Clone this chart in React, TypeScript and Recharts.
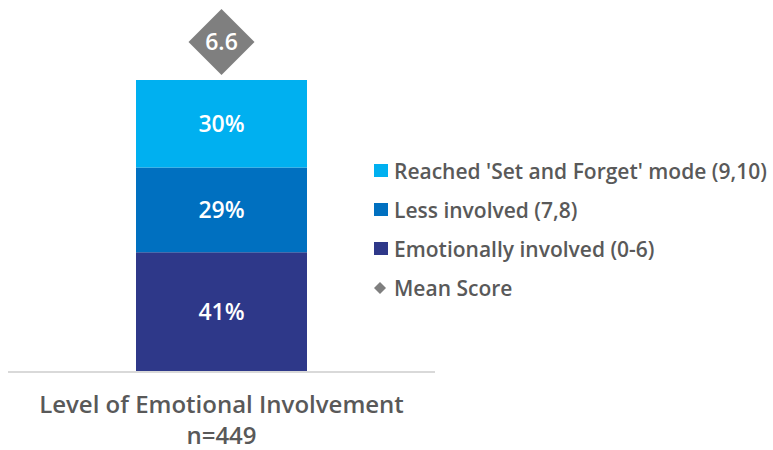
import { ComposedChart, Bar, XAxis, YAxis, LabelList } from 'recharts';

const categories = ['Level of Emotional Involvement'];
const sampleSizes = ['n=449'];
const emotionallyInvolved = [41];
const lessInvolved = [29];
const setAndForget = [30];
const meanScores = [6.6];

const data = categories.map((name, i) => ({
  name,
  n: sampleSizes[i],
  emotional: emotionallyInvolved[i],
  less: lessInvolved[i],
  forget: setAndForget[i],
  mean: meanScores[i],
}));

const legendItems = [
  { label: "Reached 'Set and Forget' mode (9,10)", color: '#00b0f0', shape: 'square' },
  { label: 'Less involved (7,8)', color: '#0070c0', shape: 'square' },
  { label: 'Emotionally involved (0-6)', color: '#2e3889', shape: 'square' },
  { label: 'Mean Score', color: '#7f7f7f', shape: 'diamond' },
];

const FONT = '"Open Sans", sans-serif';
const TEXT = '#595959';

const CategoryTick = ({ x, y, payload }: any) => {
  const i = categories.indexOf(payload.value);
  return (
    <text x={x} y={y} textAnchor="middle" fill={TEXT} fontSize={24} fontWeight={600} fontFamily={FONT}>
      <tspan x={x} dy={33}>{payload.value}</tspan>
      <tspan x={x} dy={31}>{sampleSizes[i]}</tspan>
    </text>
  );
};

const MeanDiamond = (props: any) => {
  const { x, y, width, value } = props;
  const cx = Number(x) + Number(width) / 2;
  const cy = Number(y) - 38;
  const r = 33;
  return (
    <g>
      <polygon
        points={`${cx},${cy - r} ${cx + r},${cy} ${cx},${cy + r} ${cx - r},${cy}`}
        fill="#7f7f7f"
      />
      <text x={cx} y={cy + 8} textAnchor="middle" fill="#fff" fontSize={23} fontWeight={600} fontFamily={FONT}>
        {value}
      </text>
    </g>
  );
};

const ChartLegend = () => (
  <div
    style={{
      position: 'absolute',
      left: 374,
      top: 151,
      fontFamily: FONT,
      fontSize: 21,
      fontWeight: 600,
      color: TEXT,
      whiteSpace: 'nowrap',
    }}
  >
    {legendItems.map((item) => (
      <div key={item.label} style={{ display: 'flex', alignItems: 'center', height: 39 }}>
        <svg width={14} height={14} style={{ marginRight: 6 }}>
          {item.shape === 'square' ? (
            <rect x={0} y={0} width={14} height={13} fill={item.color} />
          ) : (
            <polygon points="6,1 12,7 6,13 0,7" fill={item.color} />
          )}
        </svg>
        <span>{item.label}</span>
      </div>
    ))}
  </div>
);

export default function App() {
  return (
    <div style={{ position: 'absolute', left: 0, top: 0, width: 773, height: 450, background: '#fff', fontFamily: FONT }}>
      <ComposedChart
        width={773}
        height={450}
        data={data}
        margin={{ top: 80, right: 338, left: 8, bottom: 48 }}
        barCategoryGap={0}
      >
        <XAxis
          dataKey="name"
          axisLine={{ stroke: '#d9d9d9', strokeWidth: 2 }}
          tickLine={false}
          tick={<CategoryTick />}
          interval={0}
        />
        <YAxis hide domain={[0, 100]} />
        <Bar dataKey="emotional" stackId="a" fill="#2e3889" barSize={171} isAnimationActive={false}>
          <LabelList
            dataKey="emotional"
            position="center"
            formatter={(v: any) => `${v}%`}
            fill="#fff"
            fontSize={23}
            fontWeight={600}
            fontFamily={FONT}
          />
        </Bar>
        <Bar dataKey="less" stackId="a" fill="#0070c0" barSize={171} isAnimationActive={false}>
          <LabelList
            dataKey="less"
            position="center"
            formatter={(v: any) => `${v}%`}
            fill="#fff"
            fontSize={23}
            fontWeight={600}
            fontFamily={FONT}
          />
        </Bar>
        <Bar dataKey="forget" stackId="a" fill="#00b0f0" barSize={171} isAnimationActive={false}>
          <LabelList
            dataKey="forget"
            position="center"
            formatter={(v: any) => `${v}%`}
            fill="#fff"
            fontSize={23}
            fontWeight={600}
            fontFamily={FONT}
          />
          <LabelList dataKey="mean" content={<MeanDiamond />} />
        </Bar>
      </ComposedChart>
      <ChartLegend />
    </div>
  );
}
